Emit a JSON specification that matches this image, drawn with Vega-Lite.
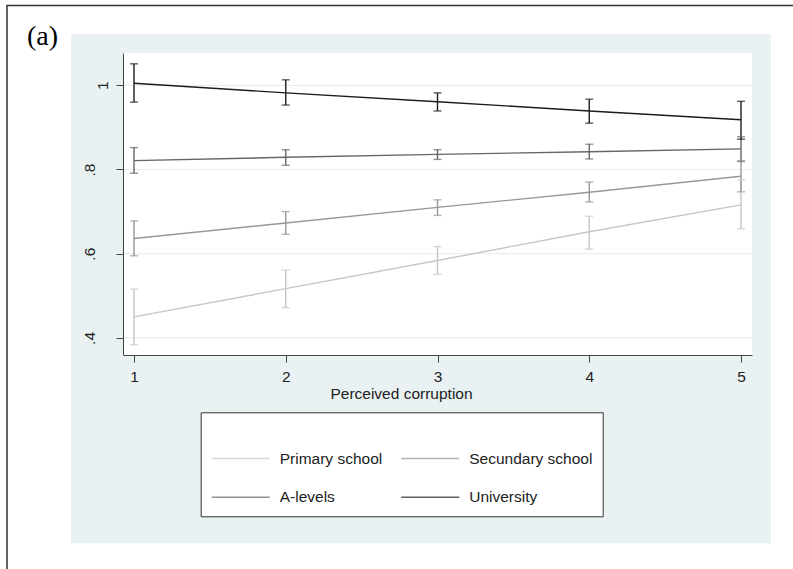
{
  "$schema": "https://vega.github.io/schema/vega-lite/v6.json",
  "width": 629,
  "height": 302,
  "autosize": {"type": "none"},
  "padding": {"left": 123, "top": 53, "right": 41, "bottom": 214},
  "background": "white",
  "config": {
    "view": {"stroke": null},
    "font": "Liberation Sans"
  },
  "datasets": {
    "est": [
      {"c": 1, "g": "Primary school", "m": 0.450, "lo": 0.384, "hi": 0.516},
      {"c": 2, "g": "Primary school", "m": 0.517, "lo": 0.472, "hi": 0.561},
      {"c": 3, "g": "Primary school", "m": 0.584, "lo": 0.551, "hi": 0.617},
      {"c": 4, "g": "Primary school", "m": 0.652, "lo": 0.611, "hi": 0.689},
      {"c": 5, "g": "Primary school", "m": 0.716, "lo": 0.659, "hi": 0.775},
      {"c": 1, "g": "Secundary school", "m": 0.636, "lo": 0.595, "hi": 0.678},
      {"c": 2, "g": "Secundary school", "m": 0.673, "lo": 0.646, "hi": 0.700},
      {"c": 3, "g": "Secundary school", "m": 0.710, "lo": 0.691, "hi": 0.728},
      {"c": 4, "g": "Secundary school", "m": 0.746, "lo": 0.723, "hi": 0.770},
      {"c": 5, "g": "Secundary school", "m": 0.784, "lo": 0.747, "hi": 0.821},
      {"c": 1, "g": "A-levels", "m": 0.821, "lo": 0.791, "hi": 0.852},
      {"c": 2, "g": "A-levels", "m": 0.829, "lo": 0.810, "hi": 0.847},
      {"c": 3, "g": "A-levels", "m": 0.836, "lo": 0.824, "hi": 0.847},
      {"c": 4, "g": "A-levels", "m": 0.842, "lo": 0.825, "hi": 0.860},
      {"c": 5, "g": "A-levels", "m": 0.849, "lo": 0.819, "hi": 0.878},
      {"c": 1, "g": "University", "m": 1.005, "lo": 0.960, "hi": 1.051},
      {"c": 2, "g": "University", "m": 0.982, "lo": 0.953, "hi": 1.013},
      {"c": 3, "g": "University", "m": 0.961, "lo": 0.939, "hi": 0.982},
      {"c": 4, "g": "University", "m": 0.939, "lo": 0.910, "hi": 0.967},
      {"c": 5, "g": "University", "m": 0.918, "lo": 0.872, "hi": 0.962}
    ],
    "grid": [{"v": 0.4}, {"v": 0.6}, {"v": 0.8}, {"v": 1}]
  },
  "layer": [
    {
      "data": {"values": [{}]},
      "mark": {"type": "rect", "fill": "white", "stroke": "#333333", "strokeWidth": 1.5},
      "encoding": {
        "x": {"datum": 0.1631, "type": "quantitative", "scale": {"domain": [0.9275, 5.0725], "nice": false, "zero": false}},
        "x2": {"datum": 5.6},
        "y": {"datum": 1.1895, "type": "quantitative", "scale": {"domain": [0.3594, 1.0767], "nice": false, "zero": false}},
        "y2": {"datum": -0.25}
      }
    },
    {
      "data": {"values": [{}]},
      "mark": {"type": "rect", "fill": "#e9f1f3"},
      "encoding": {
        "x": {"datum": 0.5848, "type": "quantitative"},
        "x2": {"datum": 5.1977},
        "y": {"datum": 1.1219, "type": "quantitative"},
        "y2": {"datum": -0.0879}
      }
    },
    {
      "data": {"values": [{}]},
      "mark": {"type": "rect", "fill": "white"},
      "encoding": {
        "x": {"datum": 0.9275, "type": "quantitative"},
        "x2": {"datum": 5.0725},
        "y": {"datum": 1.0767, "type": "quantitative"},
        "y2": {"datum": 0.3594}
      }
    },
    {
      "data": {"name": "grid"},
      "mark": {"type": "rule", "color": "#e6f0f2", "strokeWidth": 1.2},
      "encoding": {
        "y": {"field": "v", "type": "quantitative"}
      }
    },
    {
      "data": {"name": "est"},
      "mark": {"type": "rule", "strokeWidth": 1.4},
      "encoding": {
        "x": {"field": "c", "type": "quantitative"},
        "y": {"field": "lo", "type": "quantitative"},
        "y2": {"field": "hi"},
        "color": {"field": "g", "type": "nominal"}
      }
    },
    {
      "data": {"name": "est"},
      "mark": {"type": "tick", "orient": "horizontal", "size": 8, "thickness": 1.4},
      "encoding": {
        "x": {"field": "c", "type": "quantitative"},
        "y": {"field": "lo", "type": "quantitative"},
        "color": {"field": "g", "type": "nominal"}
      }
    },
    {
      "data": {"name": "est"},
      "mark": {"type": "tick", "orient": "horizontal", "size": 8, "thickness": 1.4},
      "encoding": {
        "x": {"field": "c", "type": "quantitative"},
        "y": {"field": "hi", "type": "quantitative"},
        "color": {"field": "g", "type": "nominal"}
      }
    },
    {
      "data": {"name": "est"},
      "mark": {"type": "line", "strokeWidth": 1.4},
      "encoding": {
        "x": {
          "field": "c", "type": "quantitative",
          "axis": {
            "zindex": 2,
            "values": [1, 2, 3, 4, 5], "format": "d", "grid": false,
            "tickSize": 7, "tickColor": "#444444", "domainColor": "#444444",
            "labelFontSize": 15.5, "labelColor": "#222222", "labelPadding": 7,
            "title": "Perceived corruption", "titleFontSize": 15.5, "titleFontWeight": "normal",
            "titleColor": "#222222", "titleX": 278, "titleY": 43, "titleBaseline": "alphabetic"
          }
        },
        "y": {
          "field": "m", "type": "quantitative",
          "axis": {
            "zindex": 2,
            "values": [0.4, 0.6, 0.8, 1], "grid": false,
            "labelExpr": "datum.value == 1 ? '1' : replace(format(datum.value, '.1f'), '0.', '.')",
            "tickSize": 7, "tickColor": "#444444", "domainColor": "#444444",
            "labelFontSize": 15.5, "labelColor": "#222222", "labelAngle": -90,
            "labelAlign": "center", "labelBaseline": "alphabetic",
            "labelPadding": {"condition": {"test": "datum.value == 1", "value": 9}, "value": 22},
            "title": null
          }
        },
        "color": {
          "field": "g", "type": "nominal",
          "scale": {
            "domain": ["Primary school", "Secundary school", "A-levels", "University"],
            "range": ["#c6c6c6", "#979797", "#666666", "#1c1c1c"]
          },
          "legend": {
            "zindex": 2,
            "orient": "none", "legendX": 77.7, "legendY": 359.3,
            "direction": "horizontal",
            "columns": 2, "symbolType": "stroke", "symbolSize": 3364, "symbolStrokeWidth": 1.5,
            "labelFontSize": 15.5, "labelColor": "#222222", "labelOffset": 9, "labelLimit": 300,
            "columnPadding": 15.5, "rowPadding": 0, "padding": 10,
            "strokeColor": "#333333", "fillColor": "white",
            "title": " ", "titleFontSize": 6, "titlePadding": 0
          }
        }
      }
    },
    {
      "data": {"values": [{"t": "(a)"}]},
      "mark": {"type": "text", "font": "Liberation Serif", "fontSize": 28, "align": "left", "baseline": "alphabetic", "color": "black"},
      "encoding": {
        "x": {"datum": 0.2949, "type": "quantitative"},
        "y": {"datum": 1.0957, "type": "quantitative"},
        "text": {"field": "t", "type": "nominal"}
      }
    }
  ]
}
